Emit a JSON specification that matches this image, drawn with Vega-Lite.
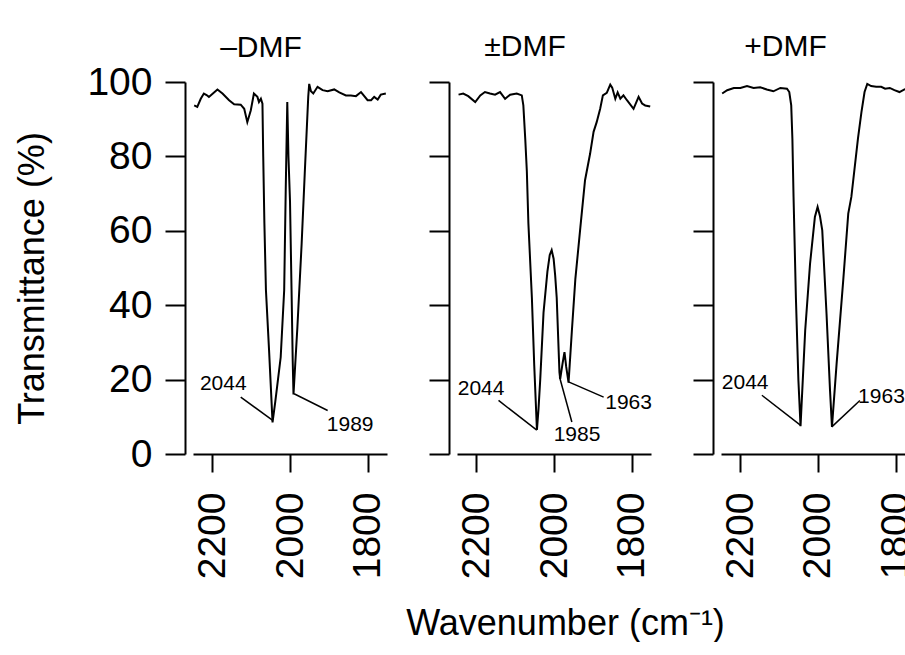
{
  "$schema": "https://vega.github.io/schema/vega-lite/v6.json",
  "background": "white",
  "padding": {"left": 14, "top": 32, "right": 0, "bottom": 0},
  "bounds": "flush",
  "spacing": 70,
  "config": {
    "font": "Liberation Sans",
    "view": {"stroke": null},
    "axis": {"grid": false, "domainColor": "black", "domainWidth": 2, "tickColor": "black", "tickWidth": 2, "labelColor": "black", "titleColor": "black", "labelFont": "Liberation Sans", "titleFont": "Liberation Sans", "labelFontSize": 39, "titleFontSize": 36, "titleFontWeight": "normal"},
    "title": {"fontSize": 30, "fontWeight": "normal", "color": "black", "font": "Liberation Sans", "dx": -29, "frame": "group"}
  },
  "datasets": {
    "spectra": [
      {"panel": "m", "wn": 2247, "t": 93.7}, {"panel": "m", "wn": 2239, "t": 93.3}, {"panel": "m", "wn": 2230, "t": 95.5}, {"panel": "m", "wn": 2222, "t": 96.9}, {"panel": "m", "wn": 2215, "t": 96.5}, {"panel": "m", "wn": 2209, "t": 96.0}, {"panel": "m", "wn": 2198, "t": 97.0}, {"panel": "m", "wn": 2187, "t": 98.0}, {"panel": "m", "wn": 2174, "t": 96.9}, {"panel": "m", "wn": 2157, "t": 95.1}, {"panel": "m", "wn": 2144, "t": 94.0}, {"panel": "m", "wn": 2127, "t": 93.9}, {"panel": "m", "wn": 2118, "t": 92.8}, {"panel": "m", "wn": 2110, "t": 89.2}, {"panel": "m", "wn": 2101, "t": 92.4}, {"panel": "m", "wn": 2093, "t": 96.9}, {"panel": "m", "wn": 2084, "t": 96.0}, {"panel": "m", "wn": 2080, "t": 94.6}, {"panel": "m", "wn": 2075, "t": 95.5}, {"panel": "m", "wn": 2071, "t": 94.2}, {"panel": "m", "wn": 2069, "t": 80}, {"panel": "m", "wn": 2066, "t": 62}, {"panel": "m", "wn": 2062, "t": 44}, {"panel": "m", "wn": 2054, "t": 28}, {"panel": "m", "wn": 2045, "t": 8.5}, {"panel": "m", "wn": 2038, "t": 14}, {"panel": "m", "wn": 2031, "t": 20}, {"panel": "m", "wn": 2024, "t": 26}, {"panel": "m", "wn": 2015, "t": 44}, {"panel": "m", "wn": 2011, "t": 71}, {"panel": "m", "wn": 2007, "t": 94.6}, {"panel": "m", "wn": 2004, "t": 80}, {"panel": "m", "wn": 2000, "t": 68}, {"panel": "m", "wn": 1996, "t": 44}, {"panel": "m", "wn": 1993, "t": 25}, {"panel": "m", "wn": 1991, "t": 16}, {"panel": "m", "wn": 1981, "t": 34}, {"panel": "m", "wn": 1970, "t": 56.5}, {"panel": "m", "wn": 1962, "t": 75.4}, {"panel": "m", "wn": 1953, "t": 96}, {"panel": "m", "wn": 1950.5, "t": 99.5}, {"panel": "m", "wn": 1946, "t": 97.5}, {"panel": "m", "wn": 1940, "t": 96.9}, {"panel": "m", "wn": 1929, "t": 98.7}, {"panel": "m", "wn": 1916, "t": 97.8}, {"panel": "m", "wn": 1903, "t": 97.5}, {"panel": "m", "wn": 1886, "t": 98.0}, {"panel": "m", "wn": 1873, "t": 97.2}, {"panel": "m", "wn": 1856, "t": 96.4}, {"panel": "m", "wn": 1843, "t": 96.4}, {"panel": "m", "wn": 1830, "t": 96.2}, {"panel": "m", "wn": 1817, "t": 97.3}, {"panel": "m", "wn": 1800, "t": 95.1}, {"panel": "m", "wn": 1791, "t": 95.1}, {"panel": "m", "wn": 1783, "t": 96.0}, {"panel": "m", "wn": 1774, "t": 95.3}, {"panel": "m", "wn": 1766, "t": 96.6}, {"panel": "m", "wn": 1753, "t": 96.9},

      {"panel": "pm", "wn": 2246, "t": 96.6}, {"panel": "pm", "wn": 2234, "t": 96.9}, {"panel": "pm", "wn": 2221, "t": 96.2}, {"panel": "pm", "wn": 2203, "t": 94.6}, {"panel": "pm", "wn": 2190, "t": 96.4}, {"panel": "pm", "wn": 2178, "t": 97.3}, {"panel": "pm", "wn": 2165, "t": 96.9}, {"panel": "pm", "wn": 2152, "t": 96.6}, {"panel": "pm", "wn": 2139, "t": 97.3}, {"panel": "pm", "wn": 2126, "t": 95.5}, {"panel": "pm", "wn": 2113, "t": 96.6}, {"panel": "pm", "wn": 2096, "t": 96.9}, {"panel": "pm", "wn": 2083, "t": 96.4}, {"panel": "pm", "wn": 2079, "t": 93.7}, {"panel": "pm", "wn": 2074, "t": 84.5}, {"panel": "pm", "wn": 2070, "t": 76}, {"panel": "pm", "wn": 2066, "t": 62}, {"panel": "pm", "wn": 2057, "t": 42}, {"panel": "pm", "wn": 2051, "t": 24}, {"panel": "pm", "wn": 2044, "t": 6.5}, {"panel": "pm", "wn": 2040, "t": 12}, {"panel": "pm", "wn": 2035.5, "t": 20}, {"panel": "pm", "wn": 2027, "t": 38}, {"panel": "pm", "wn": 2017, "t": 49}, {"panel": "pm", "wn": 2011, "t": 53.5}, {"panel": "pm", "wn": 2006, "t": 54.8}, {"panel": "pm", "wn": 2001, "t": 52.5}, {"panel": "pm", "wn": 1997, "t": 48}, {"panel": "pm", "wn": 1993, "t": 42}, {"panel": "pm", "wn": 1986, "t": 22}, {"panel": "pm", "wn": 1984, "t": 20.2}, {"panel": "pm", "wn": 1978, "t": 24.3}, {"panel": "pm", "wn": 1973, "t": 27.4}, {"panel": "pm", "wn": 1968.5, "t": 23.4}, {"panel": "pm", "wn": 1962.5, "t": 19.2}, {"panel": "pm", "wn": 1954, "t": 33}, {"panel": "pm", "wn": 1945, "t": 47}, {"panel": "pm", "wn": 1932, "t": 61}, {"panel": "pm", "wn": 1920, "t": 73.6}, {"panel": "pm", "wn": 1907, "t": 80.7}, {"panel": "pm", "wn": 1898, "t": 86.6}, {"panel": "pm", "wn": 1890, "t": 89.2}, {"panel": "pm", "wn": 1881, "t": 92.8}, {"panel": "pm", "wn": 1874, "t": 96.4}, {"panel": "pm", "wn": 1864, "t": 97.1}, {"panel": "pm", "wn": 1855, "t": 99.3}, {"panel": "pm", "wn": 1850, "t": 98.5}, {"panel": "pm", "wn": 1842, "t": 95.5}, {"panel": "pm", "wn": 1836, "t": 97.2}, {"panel": "pm", "wn": 1829, "t": 95.5}, {"panel": "pm", "wn": 1821, "t": 96.4}, {"panel": "pm", "wn": 1812, "t": 95.1}, {"panel": "pm", "wn": 1795, "t": 92.8}, {"panel": "pm", "wn": 1782, "t": 96.0}, {"panel": "pm", "wn": 1773, "t": 94.2}, {"panel": "pm", "wn": 1765, "t": 93.7}, {"panel": "pm", "wn": 1752, "t": 93.4},

      {"panel": "p", "wn": 2247, "t": 96.9}, {"panel": "p", "wn": 2234, "t": 97.8}, {"panel": "p", "wn": 2217, "t": 98.4}, {"panel": "p", "wn": 2200, "t": 98.4}, {"panel": "p", "wn": 2183, "t": 98.9}, {"panel": "p", "wn": 2166, "t": 98.4}, {"panel": "p", "wn": 2149, "t": 98.6}, {"panel": "p", "wn": 2132, "t": 98.0}, {"panel": "p", "wn": 2115, "t": 97.5}, {"panel": "p", "wn": 2097, "t": 98.4}, {"panel": "p", "wn": 2080, "t": 98.2}, {"panel": "p", "wn": 2074, "t": 97.3}, {"panel": "p", "wn": 2069, "t": 93.7}, {"panel": "p", "wn": 2066, "t": 84.8}, {"panel": "p", "wn": 2063, "t": 69.1}, {"panel": "p", "wn": 2057, "t": 42.2}, {"panel": "p", "wn": 2050.5, "t": 19.8}, {"panel": "p", "wn": 2045, "t": 7.5}, {"panel": "p", "wn": 2033, "t": 33.2}, {"panel": "p", "wn": 2020.5, "t": 51.1}, {"panel": "p", "wn": 2008, "t": 63.7}, {"panel": "p", "wn": 2001, "t": 66.4}, {"panel": "p", "wn": 1995, "t": 64}, {"panel": "p", "wn": 1989, "t": 60.1}, {"panel": "p", "wn": 1978, "t": 37.7}, {"panel": "p", "wn": 1969, "t": 17.1}, {"panel": "p", "wn": 1964, "t": 7.3}, {"panel": "p", "wn": 1952, "t": 24.3}, {"panel": "p", "wn": 1935, "t": 46.6}, {"panel": "p", "wn": 1922, "t": 64.6}, {"panel": "p", "wn": 1914, "t": 69.1}, {"panel": "p", "wn": 1897, "t": 84.8}, {"panel": "p", "wn": 1888, "t": 91.9}, {"panel": "p", "wn": 1880, "t": 97.3}, {"panel": "p", "wn": 1873, "t": 99.5}, {"panel": "p", "wn": 1863, "t": 98.9}, {"panel": "p", "wn": 1850, "t": 98.7}, {"panel": "p", "wn": 1837, "t": 98.7}, {"panel": "p", "wn": 1827, "t": 98.2}, {"panel": "p", "wn": 1815, "t": 98.4}, {"panel": "p", "wn": 1803, "t": 97.8}, {"panel": "p", "wn": 1790, "t": 97.3}, {"panel": "p", "wn": 1777, "t": 98.0}, {"panel": "p", "wn": 1768, "t": 98.4}, {"panel": "p", "wn": 1760, "t": 98.0}, {"panel": "p", "wn": 1752, "t": 97.8}
    ],
    "notes": [
      {"panel": "m", "label": "2044", "tx": 2172, "ty": 18.8, "x1": 2127, "y1": 15.3, "x2": 2045.5, "y2": 9.1},
      {"panel": "m", "label": "1989", "tx": 1845, "ty": 7.8, "x1": 1989.4, "y1": 16.2, "x2": 1903, "y2": 11.7},
      {"panel": "pm", "label": "2044", "tx": 2188, "ty": 17.5, "x1": 2143, "y1": 14.4, "x2": 2044.3, "y2": 6.4},
      {"panel": "pm", "label": "1985", "tx": 1940.6, "ty": 5.2, "x1": 1985.7, "y1": 20.7, "x2": 1954, "y2": 8.6},
      {"panel": "pm", "label": "1963", "tx": 1807.7, "ty": 13.8, "x1": 1962.5, "y1": 19.4, "x2": 1872, "y2": 15.3},
      {"panel": "p", "label": "2044", "tx": 2187.7, "ty": 19.1, "x1": 2144.6, "y1": 15.8, "x2": 2044.6, "y2": 7.7},
      {"panel": "p", "label": "1963", "tx": 1836.4, "ty": 15.3, "x1": 1964.5, "y1": 7.3, "x2": 1892, "y2": 14.4}
    ]
  },
  "hconcat": [
    {
      "width": 194, "height": 372,
      "title": {"text": "–DMF", "offset": 0},
      "layer": [
        {"data": {"name": "spectra"}, "transform": [{"filter": "datum.panel === 'm'"}],
         "mark": {"type": "line", "color": "black", "strokeWidth": 2, "clip": true},
         "encoding": {
           "x": {"field": "wn", "type": "quantitative", "scale": {"domain": [1750, 2250], "reverse": true, "nice": false, "zero": false},
                 "axis": {"values": [2200, 2000, 1800], "format": "d", "labelAngle": -90, "tickSize": 18, "labelPadding": 20, "title": null}},
           "y": {"field": "t", "type": "quantitative", "scale": {"domain": [0, 100], "nice": false},
                 "axis": {"values": [0, 20, 40, 60, 80, 100], "tickSize": 20, "offset": 8, "labelPadding": 13, "title": "Transmittance (%)", "titlePadding": 35, "titleY": 196}}
         }},
        {"data": {"name": "notes"}, "transform": [{"filter": "datum.panel === 'm'"}],
         "mark": {"type": "rule", "color": "black", "strokeWidth": 1.5},
         "encoding": {"x": {"field": "x1", "type": "quantitative"}, "x2": {"field": "x2"}, "y": {"field": "y1", "type": "quantitative"}, "y2": {"field": "y2"}}},
        {"data": {"name": "notes"}, "transform": [{"filter": "datum.panel === 'm'"}],
         "mark": {"type": "text", "fontSize": 21, "color": "black", "align": "center", "baseline": "middle"},
         "encoding": {"x": {"field": "tx", "type": "quantitative"}, "y": {"field": "ty", "type": "quantitative"}, "text": {"field": "label"}}}
      ]
    },
    {
      "width": 194, "height": 372,
      "title": {"text": "±DMF", "offset": 19},
      "layer": [
        {"data": {"name": "spectra"}, "transform": [{"filter": "datum.panel === 'pm'"}],
         "mark": {"type": "line", "color": "black", "strokeWidth": 2, "clip": true},
         "encoding": {
           "x": {"field": "wn", "type": "quantitative", "scale": {"domain": [1750, 2250], "reverse": true, "nice": false, "zero": false},
                 "axis": {"values": [2200, 2000, 1800], "format": "d", "labelAngle": -90, "tickSize": 18, "labelPadding": 20, "title": "Wavenumber (cm⁻¹)", "titlePadding": 28, "titleX": 108}},
           "y": {"field": "t", "type": "quantitative", "scale": {"domain": [0, 100], "nice": false},
                 "axis": {"values": [0, 20, 40, 60, 80, 100], "tickSize": 20, "offset": 8, "labels": false, "title": null}}
         }},
        {"data": {"name": "notes"}, "transform": [{"filter": "datum.panel === 'pm'"}],
         "mark": {"type": "rule", "color": "black", "strokeWidth": 1.5},
         "encoding": {"x": {"field": "x1", "type": "quantitative"}, "x2": {"field": "x2"}, "y": {"field": "y1", "type": "quantitative"}, "y2": {"field": "y2"}}},
        {"data": {"name": "notes"}, "transform": [{"filter": "datum.panel === 'pm'"}],
         "mark": {"type": "text", "fontSize": 21, "color": "black", "align": "center", "baseline": "middle"},
         "encoding": {"x": {"field": "tx", "type": "quantitative"}, "y": {"field": "ty", "type": "quantitative"}, "text": {"field": "label"}}}
      ]
    },
    {
      "width": 187, "height": 372,
      "title": {"text": "+DMF", "offset": 19},
      "layer": [
        {"data": {"name": "spectra"}, "transform": [{"filter": "datum.panel === 'p'"}],
         "mark": {"type": "line", "color": "black", "strokeWidth": 2, "clip": true},
         "encoding": {
           "x": {"field": "wn", "type": "quantitative", "scale": {"domain": [1768, 2250], "reverse": true, "nice": false, "zero": false},
                 "axis": {"values": [2200, 2000, 1800], "format": "d", "labelAngle": -90, "tickSize": 18, "labelPadding": 20, "title": null}},
           "y": {"field": "t", "type": "quantitative", "scale": {"domain": [0, 100], "nice": false},
                 "axis": {"values": [0, 20, 40, 60, 80, 100], "tickSize": 20, "offset": 8, "labels": false, "title": null}}
         }},
        {"data": {"name": "notes"}, "transform": [{"filter": "datum.panel === 'p'"}],
         "mark": {"type": "rule", "color": "black", "strokeWidth": 1.5},
         "encoding": {"x": {"field": "x1", "type": "quantitative"}, "x2": {"field": "x2"}, "y": {"field": "y1", "type": "quantitative"}, "y2": {"field": "y2"}}},
        {"data": {"name": "notes"}, "transform": [{"filter": "datum.panel === 'p'"}],
         "mark": {"type": "text", "fontSize": 21, "color": "black", "align": "center", "baseline": "middle"},
         "encoding": {"x": {"field": "tx", "type": "quantitative"}, "y": {"field": "ty", "type": "quantitative"}, "text": {"field": "label"}}}
      ]
    }
  ]
}
